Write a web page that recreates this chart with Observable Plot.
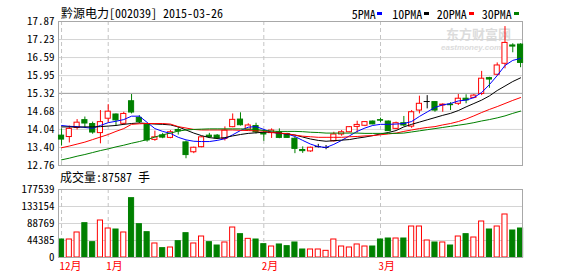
<!DOCTYPE html>
<html><head><meta charset="utf-8">
<script src="https://cdn.jsdelivr.net/npm/d3@7"></script>
<script src="https://cdn.jsdelivr.net/npm/@observablehq/plot@0.6"></script>
<style>
body{margin:0;background:#fff;}
#c{position:relative;width:578px;height:276px;overflow:hidden;background:#fff;
  font-family:"Noto Sans Mono CJK SC","Liberation Mono",monospace;}
.t{position:absolute;white-space:nowrap;color:#000;}
#c svg{position:absolute;left:0;}
</style></head><body><div id="c"></div>
<script>
const stockTitle = "黔源电力[002039] 2015-03-26";
const volCaption = "成交量:87587 手";
const maNames = ["5PMA","10PMA","20PMA","30PMA"];
const maColors = ["#0000ff","#000000","#ff0000","#008000"];
const monthLabels = ["12月","1月","2月","3月"];
const priceTicks = [12.76,13.40,14.04,14.68,15.32,15.95,16.59,17.23,17.87];
const volTicks = [0,44385,88769,133154,177539];

const dates = ["2014-12-24","2014-12-25","2014-12-26","2014-12-29","2014-12-30","2014-12-31",
"2015-01-05","2015-01-06","2015-01-07","2015-01-08","2015-01-09","2015-01-12","2015-01-13","2015-01-14","2015-01-15","2015-01-16",
"2015-01-19","2015-01-20","2015-01-21","2015-01-22","2015-01-23","2015-01-26","2015-01-27","2015-01-28","2015-01-29","2015-01-30",
"2015-02-02","2015-02-03","2015-02-04","2015-02-05","2015-02-06","2015-02-09","2015-02-10","2015-02-11","2015-02-12","2015-02-13",
"2015-02-16","2015-02-17","2015-02-25","2015-02-26","2015-02-27",
"2015-03-02","2015-03-03","2015-03-04","2015-03-05","2015-03-06","2015-03-09","2015-03-10","2015-03-11","2015-03-12","2015-03-13",
"2015-03-16","2015-03-17","2015-03-18","2015-03-19","2015-03-20","2015-03-23","2015-03-24","2015-03-25","2015-03-26"];

const open = [13.82,13.77,14.09,14.37,14.23,13.91,14.42,14.57,14.24,15.04,14.45,14.20,13.67,13.83,13.74,14.02,13.58,13.23,13.41,13.82,
13.82,13.70,14.12,14.39,14.03,14.16,13.90,13.91,13.94,13.88,13.71,13.31,13.26,13.43,13.40,13.62,13.86,13.94,14.13,14.17,
14.32,14.37,14.32,14.06,14.26,14.14,14.71,15.03,15.01,14.89,14.92,14.95,15.13,15.16,15.30,15.86,15.98,16.37,17.02,17.05];
const high = [14.06,14.16,14.39,14.48,14.30,14.71,14.92,14.59,14.65,15.28,14.53,14.24,13.98,13.90,14.00,14.11,13.63,13.41,13.79,13.90,
13.86,14.13,14.59,14.63,14.24,14.26,14.03,14.06,14.06,13.90,13.76,13.42,13.41,13.51,13.47,13.94,14.00,14.14,14.33,14.32,
14.34,14.44,14.34,14.30,14.50,14.71,15.22,15.24,15.03,14.95,14.99,15.28,15.27,15.28,16.10,15.89,16.40,17.69,17.08,17.08];
const low = [13.45,13.56,14.02,14.07,13.87,13.53,14.27,14.17,14.18,14.59,14.25,13.59,13.62,13.71,13.71,13.84,13.00,13.18,13.39,13.72,
13.68,13.63,14.10,14.16,14.00,13.88,13.62,13.72,13.71,13.72,13.18,13.19,13.23,13.38,13.32,13.59,13.80,13.92,13.91,14.14,
14.20,14.28,13.97,14.03,14.14,14.08,14.59,14.77,14.65,14.65,14.71,14.89,14.95,15.13,15.24,15.50,15.93,16.19,16.76,16.23];
const close = [13.68,14.06,14.28,14.25,13.93,14.30,14.67,14.36,14.59,14.64,14.30,13.65,13.76,13.75,13.94,13.97,13.13,13.39,13.76,13.77,
13.72,14.00,14.38,14.19,14.18,13.94,13.86,14.00,13.74,13.74,13.35,13.27,13.39,13.43,13.40,13.86,13.94,14.12,14.20,14.30,
14.22,14.35,13.98,14.26,14.18,14.65,14.95,15.03,14.71,14.92,14.90,15.13,15.07,15.24,15.84,15.81,16.31,17.11,16.98,16.40];
const volume = [47000,47000,65300,89600,40000,96600,75700,73100,65300,154900,87000,66100,36600,24400,26100,42600,63500,36600,54800,40000,
31300,39200,78300,60900,48700,47000,34800,28700,34000,29600,39200,20900,20900,20900,17400,47000,28700,26100,34000,28700,
28700,47000,49600,49600,49600,80900,80900,44400,39200,39200,31300,54800,60900,52200,94000,73100,80900,112300,70500,75700];

const ma5 = [14.18,14.15,14.14,14.11,14.08,14.18,14.28,14.33,14.39,14.51,14.51,14.29,14.07,13.97,13.90,13.76,13.67,13.62,13.61,13.61,
13.65,13.71,13.85,14.00,14.12,14.14,14.04,13.94,13.90,13.88,13.79,13.65,13.52,13.43,13.40,13.51,13.65,13.81,13.97,14.09,
14.18,14.22,14.22,14.23,14.25,14.32,14.50,14.66,14.82,14.91,14.96,15.05,15.08,15.17,15.35,15.63,15.95,16.31,16.49,16.56];
const ma10 = [14.13,14.13,14.12,14.13,14.13,14.14,14.16,14.18,14.22,14.25,14.27,14.25,14.23,14.22,14.20,14.13,14.02,13.91,13.82,13.75,
13.72,13.75,13.81,13.86,13.90,13.92,13.94,13.94,13.91,13.88,13.84,13.77,13.70,13.65,13.62,13.64,13.66,13.68,13.73,13.77,
13.82,13.88,13.93,14.00,14.13,14.22,14.30,14.38,14.46,14.54,14.61,14.71,14.84,14.96,15.08,15.23,15.42,15.58,15.74,15.87];
const ma20 = [13.39,13.45,13.52,13.59,13.68,13.77,13.86,13.97,14.07,14.22,14.24,14.25,14.25,14.25,14.23,14.14,14.09,14.04,14.02,14.02,
14.02,14.02,14.02,14.01,14.00,13.99,13.98,13.93,13.91,13.89,13.84,13.80,13.78,13.76,13.76,13.76,13.76,13.78,13.79,13.81,
13.82,13.85,13.88,13.91,13.97,14.02,14.07,14.11,14.14,14.20,14.25,14.32,14.41,14.52,14.64,14.75,14.85,14.96,15.07,15.17];
const ma30 = [12.96,13.02,13.09,13.15,13.22,13.29,13.35,13.42,13.48,13.55,13.61,13.68,13.77,13.85,13.91,13.98,14.02,14.04,14.05,14.06,
14.06,14.06,14.06,14.06,14.05,14.04,14.00,13.98,13.97,13.97,13.97,13.96,13.94,13.93,13.91,13.91,13.91,13.91,13.91,13.90,
13.90,13.90,13.90,13.90,13.91,13.95,13.99,14.03,14.07,14.11,14.15,14.19,14.23,14.28,14.34,14.39,14.45,14.52,14.61,14.69];

const RED = "#ff0000", GREEN = "#008000";
const candles = dates.map((d, i) => ({i, date: d, o: open[i], h: high[i], l: low[i], c: close[i], v: volume[i]}));
const candleColor = d => d.c > d.o ? RED : d.c < d.o ? GREEN : "#000000";
const volColor = d => d.c >= d.o ? RED : GREEN;
const monthIdx = candles.filter((d, i) => i === 0 || d.date.slice(0, 7) !== dates[i - 1].slice(0, 7)).map(d => d.i);
const monthMap = new Map(monthIdx.map((k, j) => [k, monthLabels[j]]));
const maSeries = [ma5, ma10, ma20, ma30].flatMap((arr, s) => arr.map((y, i) => ({i, y, s: maNames[s]})));

const xDomain = [-0.39, 59.25];
const HW = 0.33;
const FONT = '"Noto Sans Mono CJK SC","Liberation Mono",monospace';

const price = Plot.plot({
  width: 578, height: 172, marginLeft: 58, marginRight: 56, marginTop: 21, marginBottom: 7,
  style: {fontFamily: FONT, fontSize: "11px", background: "transparent", overflow: "visible"},
  x: {domain: xDomain, axis: null, label: null},
  y: {domain: [12.76, 17.87], axis: null, label: null},
  color: {domain: maNames, range: maColors},
  marks: [
    Plot.ruleY(priceTicks, {stroke: d => d === 15.32 ? "#9a9a9a" : "#d4d4d4"}),
    Plot.ruleX(monthIdx, {stroke: "#c4c4c4", strokeDasharray: "4,3"}),
    Plot.frame({stroke: "#a8a8a8"}),
    Plot.axisY(priceTicks, {tickSize: 0, tickPadding: 4, tickFormat: d3.format(".2f"), fill: "#000", fontSize: 11, label: null}),
    Plot.ruleX(candles, {x: "i", y1: "l", y2: "h", stroke: candleColor}),
    Plot.rect(candles.filter(d => d.c !== d.o), {x1: d => d.i - HW, x2: d => d.i + HW, y1: "o", y2: "c",
      fill: d => d.c < d.o ? GREEN : "#ffffff", stroke: candleColor}),
    Plot.ruleY(candles.filter(d => d.c === d.o), {y: "o", x1: d => d.i - HW - 0.06, x2: d => d.i + HW + 0.06, stroke: candleColor}),
    Plot.line(maSeries, {x: "i", y: "y", z: "s", stroke: "s", strokeWidth: 1})
  ]
});
price.style.top = "0px";

const vol = Plot.plot({
  width: 578, height: 104, marginLeft: 58, marginRight: 56, marginTop: 17, marginBottom: 19,
  style: {fontFamily: FONT, fontSize: "11px", background: "transparent", overflow: "visible"},
  x: {domain: xDomain, axis: null, label: null},
  y: {domain: [0, 177539], axis: null, label: null},
  marks: [
    Plot.ruleY(volTicks.slice(1, -1), {stroke: "#d4d4d4"}),
    Plot.ruleX(monthIdx, {stroke: "#c4c4c4", strokeDasharray: "4,3"}),
    Plot.rect(candles, {x1: d => d.i - HW, x2: d => d.i + HW, y1: 0, y2: "v",
      fill: d => volColor(d) === GREEN ? GREEN : "#ffffff", stroke: volColor}),
    Plot.frame({stroke: "#a8a8a8"}),
    Plot.axisY(volTicks, {tickSize: 0, tickPadding: 4, fill: "#000", fontSize: 11, label: null, tickFormat: d => String(d)}),
    Plot.axisX(monthIdx, {tickSize: 0, tickPadding: 5, label: null, tickFormat: d => monthMap.get(d), textAnchor: "start", dx: -2, fill: RED, fontSize: 11})
  ]
});
vol.style.top = "172px";

const c = document.getElementById("c");
function addText(txt, left, top, size, extra) {
  const el = document.createElement("div");
  el.className = "t";
  el.textContent = txt;
  el.style.left = left + "px";
  el.style.top = top + "px";
  el.style.fontSize = size + "px";
  el.style.lineHeight = size + "px";
  if (extra) Object.assign(el.style, extra);
  c.appendChild(el);
  return el;
}
// watermark (behind the chart)
addText("东方财富网", 446, 27, 13, {color: "#dcdcdc", fontWeight: "bold", fontFamily: '"Noto Sans CJK SC",sans-serif'});
addText("eastmoney.com", 441, 44, 8, {color: "#dcdcdc", fontWeight: "bold", fontStyle: "italic", fontFamily: "Liberation Sans,sans-serif"});
c.appendChild(price);
c.appendChild(vol);
addText(stockTitle, 61, 7, 12);
addText(volCaption, 60, 171, 12);
const legendX = [351.7, 392.3, 436.7, 481.7];
const markX = [377, 424, 469, 514];
maNames.forEach((n, k) => {
  addText(n, legendX[k], 8, 12);
  const m = document.createElement("div");
  Object.assign(m.style, {position: "absolute", left: markX[k] + "px", top: "12px", width: "5px", height: "3px", background: maColors[k]});
  c.appendChild(m);
});
</script></body></html>
